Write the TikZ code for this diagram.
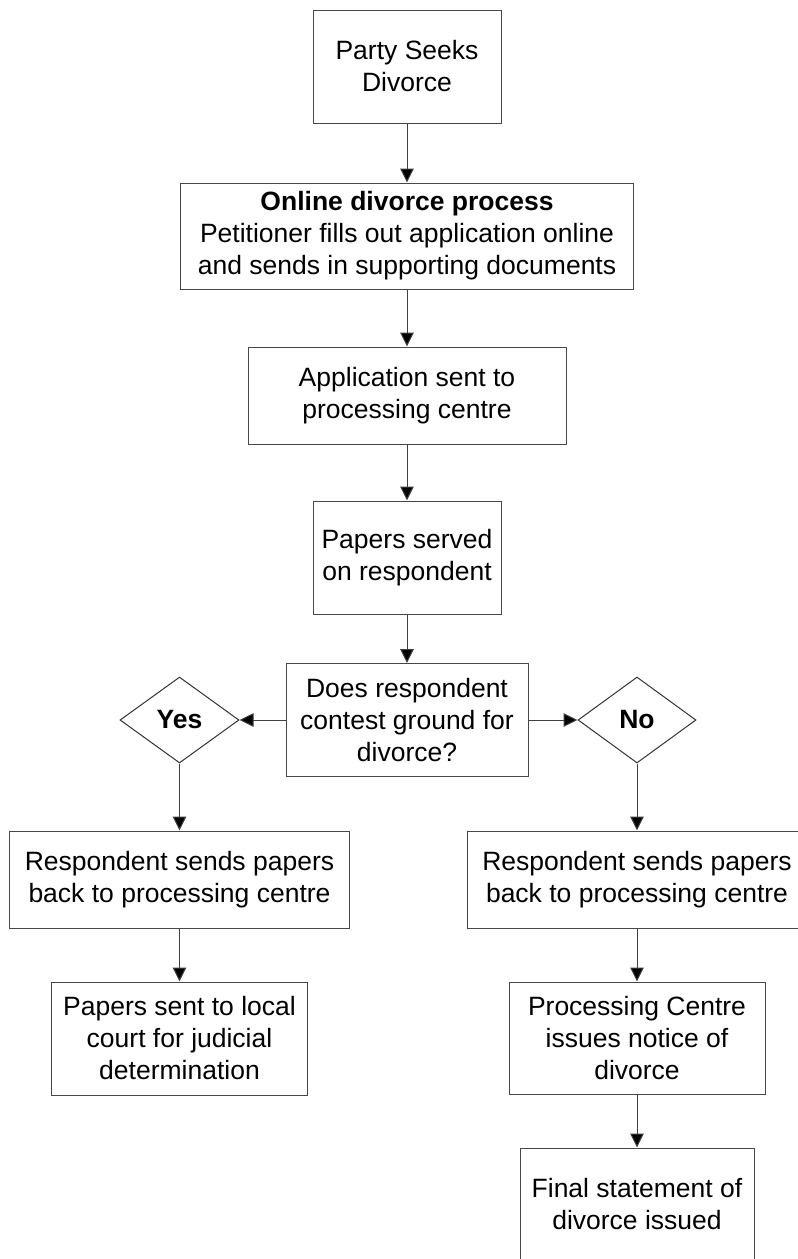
\documentclass[tikz,border=0pt]{standalone}
\usepackage{fontspec}
\setmainfont{Liberation Sans}
\usetikzlibrary{shapes.geometric,arrows.meta}
\tikzset{
  box/.style={draw=black!72, line width=1pt, rectangle, inner sep=0pt, align=center, font=\fontsize{26.5}{32}\selectfont},
  dia/.style={draw=black!80, line width=1pt, diamond, inner sep=0pt, aspect=1.38, font=\fontsize{26.5}{32}\selectfont\bfseries},
  conn/.style={draw=black!75, line width=1pt, -{Triangle[length=14pt,width=13.5pt,fill=black]}}
}
\begin{document}
\begin{tikzpicture}[x=1pt,y=-1pt]
\useasboundingbox (0,0) rectangle (798,1259);
\fill[white] (0,0) rectangle (798,1259);
\node[box, minimum width=188pt, minimum height=113pt] (b1) at (407,66.5) {Party Seeks\\Divorce};
\node[box, minimum width=453pt, minimum height=106pt] (b2) at (407,236) {\textbf{Online divorce process}\\Petitioner fills out application online\\and sends in supporting documents};
\node[box, minimum width=318pt, minimum height=97pt] (b3) at (407,395.5) {Application sent to\\processing centre};
\node[box, minimum width=188pt, minimum height=113pt] (b4) at (407,557.5) {Papers served\\on respondent};
\node[box, minimum width=242pt, minimum height=113pt] (b5) at (407,720) {Does respondent\\contest ground for\\divorce?};
\node[dia, minimum width=119pt, minimum height=86pt] (yes) at (179.5,720) {Yes};
\node[dia, minimum width=118pt, minimum height=86pt] (no) at (637,720) {No};
\node[box, minimum width=340pt, minimum height=97pt] (l1) at (179.5,879.5) {Respondent sends papers\\back to processing centre};
\node[box, minimum width=256pt, minimum height=113pt] (l2) at (179.5,1038.5) {Papers sent to local\\court for judicial\\determination};
\node[box, minimum width=340pt, minimum height=97pt] (r1) at (637,879.5) {Respondent sends papers\\back to processing centre};
\node[box, minimum width=256pt, minimum height=112pt] (r2) at (637,1038) {Processing Centre\\issues notice of\\divorce};
\node[box, minimum width=234pt, minimum height=112pt] (r3) at (637,1204) {Final statement of\\divorce issued};
\draw[conn] (b1) -- (b2);
\draw[conn] (b2) -- (b3);
\draw[conn] (b3) -- (b4);
\draw[conn] (b4) -- (b5);
\draw[conn] (b5.west) -- (yes.east);
\draw[conn] (b5.east) -- (no.west);
\draw[conn] (yes.south) -- (l1.north);
\draw[conn] (l1) -- (l2);
\draw[conn] (no.south) -- (r1.north);
\draw[conn] (r1) -- (r2);
\draw[conn] (r2) -- (r3);
\end{tikzpicture}
\end{document}
